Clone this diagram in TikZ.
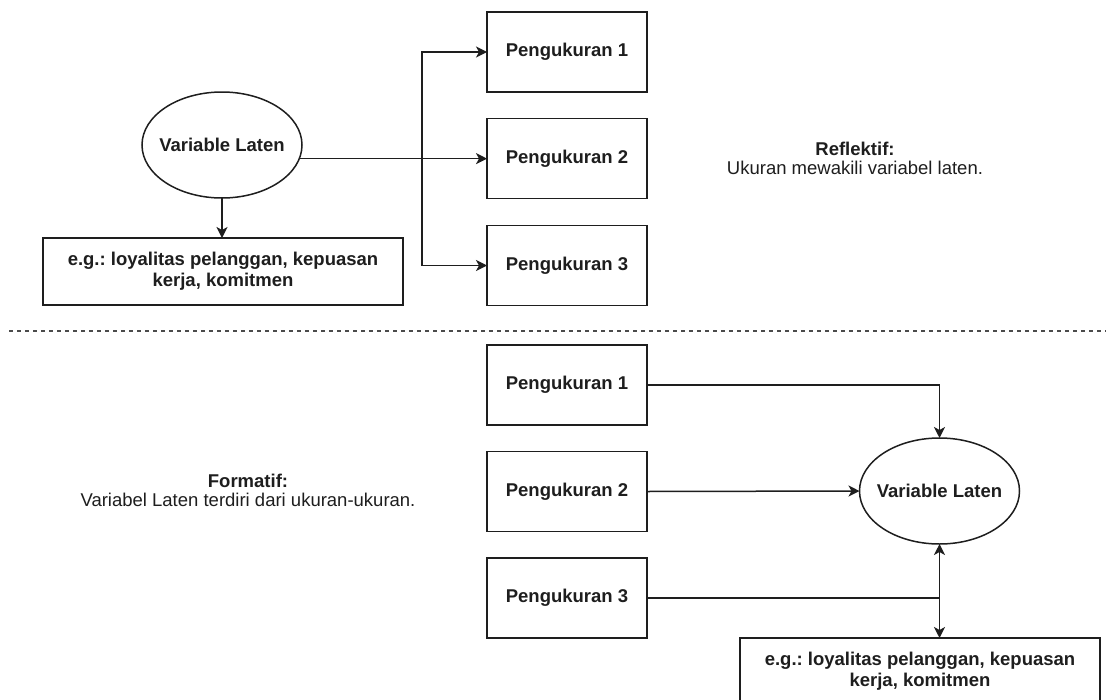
\documentclass[tikz,border=0pt]{standalone}
\usepackage{fontspec}
\setmainfont{Liberation Sans}
\usetikzlibrary{arrows.meta,shapes.geometric}
\definecolor{ink}{HTML}{1E1E1E}
\frenchspacing
\tikzset{
  every node/.style={inner sep=0pt, outer sep=0pt, text=ink},
  box/.style={draw=ink, line width=1.5pt, rectangle, minimum width=160pt, minimum height=80pt,
    font=\fontsize{18.5}{21}\selectfont\bfseries},
  wide/.style={draw=ink, line width=1.5pt, rectangle, minimum width=360pt, minimum height=67pt,
    align=center, font=\fontsize{18.5}{21}\selectfont\bfseries},
  latent/.style={draw=ink, line width=1.5pt, ellipse, minimum width=160pt, minimum height=106pt,
    font=\fontsize{18.5}{21}\selectfont\bfseries},
  note/.style={align=center, font=\fontsize{18.5}{19}\selectfont},
  link/.style={draw=ink, line width=1.5pt},
  arr/.style={link, -{Stealth[length=11pt, width=11pt, inset=3pt]}},
  divider/.style={draw=ink!80, line width=1.3pt, dash pattern=on 4pt off 4pt},
}
\newcommand{\slim}[1]{\makebox[0pt][c]{#1}}
\begin{document}
\begin{tikzpicture}[x=1pt, y=-1pt]
\clip (0,0) rectangle (1106,699);
\fill[white] (0,0) rectangle (1106,699);

% --- reflective model ---
\node[latent] (lat1) at (222,145) {\slim{Variable Laten}};
\node[box] (p1) at (567,52) {Pengukuran 1};
\node[box] (p2) at (567,158.5) {Pengukuran 2};
\node[box] (p3) at (567,265.5) {Pengukuran 3};
\node[wide] (ex1) at (223,271.5) {e.g.: loyalitas pelanggan, kepuasan\\kerja, komitmen};
\node[note] (refl) at (855,158) {\textbf{Reflektif:}\\Ukuran mewakili variabel laten.};

\coordinate (j1) at (422,158.5);
\draw[arr] (lat1.-10.5) -- (lat1.-10.5 -| p2.west);
\draw[arr] (j1) |- (p1.west);
\draw[arr] (j1) |- (p3.west);
\draw[arr] (lat1.south) -- (lat1.south |- ex1.north);

% --- divider ---
\draw[divider] (9,331) -- (1106,331);

% --- formative model ---
\node[box] (q1) at (567,385) {Pengukuran 1};
\node[box] (q2) at (567,491.5) {Pengukuran 2};
\node[box] (q3) at (567,598) {Pengukuran 3};
\node[latent] (lat2) at (939.5,491) {\slim{Variable Laten}};
\node[wide] (ex2) at (920,671.5) {e.g.: loyalitas pelanggan, kepuasan\\kerja, komitmen};
\node[note] (form) at (248,490) {\textbf{Formatif:}\\Variabel Laten terdiri dari ukuran-ukuran.};

\coordinate (j2) at (lat2.south |- q3.east);
\draw[arr] (q1.east) -| (lat2.north);
\draw[arr] (q2.east) -- (lat2.west);
\draw[link] (q3.east) -- (j2);
\draw[arr] (j2) -- (lat2.south);
\draw[arr] (j2) -- (j2 |- ex2.north);
\end{tikzpicture}
\end{document}
